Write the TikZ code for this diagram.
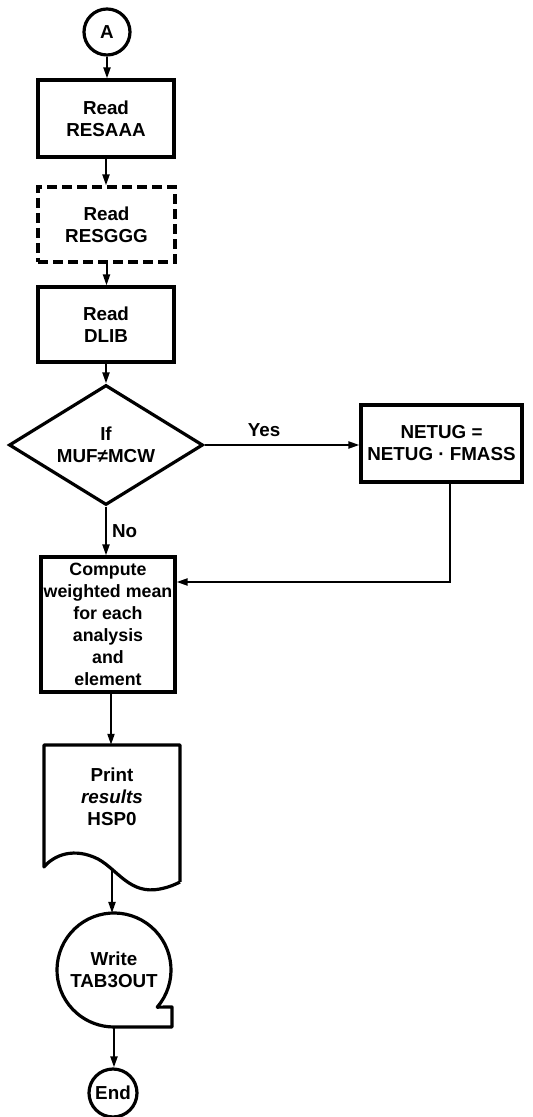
\documentclass[tikz,border=0pt]{standalone}
\usepackage{fontspec}
\setmainfont{Liberation Sans}
\usetikzlibrary{arrows.meta,shapes.geometric}
\begin{document}
\begin{tikzpicture}[x=1pt,y=1pt,
  every node/.style={font=\fontsize{18.8}{22}\selectfont\bfseries, align=center, inner sep=0pt},
  proc/.style={draw, line width=3.2pt, rectangle},
  term/.style={draw, line width=3.2pt, circle},
  conn/.style={line width=2pt, -{Triangle[length=11pt,width=7pt]}},
  thick3/.style={line width=3.2pt, line join=round}
]
\useasboundingbox (0,0) rectangle (533,1117);
% nodes
\node[term, minimum size=46pt] (A) at (107,1085) {A};
\node[proc, minimum width=136pt, minimum height=77pt] (r1) at (106,998.5) {Read\\RESAAA};
\node[proc, dash pattern=on 10pt off 5pt, minimum width=137pt, minimum height=75pt] (r2) at (106.5,892.5) {Read\\RESGGG};
\node[proc, minimum width=136pt, minimum height=75pt] (r3) at (106,792.5) {Read\\DLIB};
\node[draw, line width=3.2pt, diamond, aspect=1.617, minimum width=194pt, minimum height=120pt, inner sep=0pt] (dec) at (106,672) {If\\MUF≠MCW};
\node[proc, minimum width=161pt, minimum height=77pt] (net) at (441.5,673.5) {NETUG =\\NETUG · FMASS};
\node[proc, minimum width=134pt, minimum height=135pt, font=\fontsize{17.8}{22}\selectfont\bfseries] (comp) at (108,492.5) {Compute\\weighted mean\\for each\\analysis\\and\\element};
% document shape
\node[minimum width=136pt, minimum height=122pt] (doc) at (112,311) {};
\node (doct) at (112,320) {Print\\{\itshape results}\\HSP0};
\draw[thick3] (180,235) -- (180,372) -- (44,372) -- (44,250)
  .. controls (54,262) and (74,270) .. (98,258)
  .. controls (118,247) and (130,222) .. (160,228)
  .. controls (170,230) and (176,233) .. (180,235);
% write (tape) shape
\node[minimum size=114pt, circle] (wr) at (114,147) {Write\\TAB3OUT};
\draw[thick3] (114,147) ++(-40.7:57) arc[start angle=-40.7, end angle=270, radius=57] -- (172,90) -- (172,110) -- cycle;
\node[term, minimum size=48pt] (end) at (113,24) {End};
% connectors
\draw[conn] (A) -- (A |- r1.north);
\draw[conn] (r1.south) -- (r2.north -| r1.south);
\draw[conn] (r2.south) -- (r3.north -| r2.south);
\draw[conn] (r3.south) -- (dec.north -| r3.south);
\draw[conn] (dec.east) -- node[above=7pt, xshift=-18pt] (yes) {Yes} (dec.east -| net.west);
\draw[conn] (dec.south) -- node[right=5pt] (no) {No} (dec.south |- comp.north);
\coordinate (bend) at (450,535);
\draw[conn] (net.south -| bend) -- (bend) -- (bend -| comp.east);
\draw[conn] (comp.south -| 111,0) -- (doc.north -| 111,0);
\draw[conn] (112,247) -- (112,204);
\draw[conn] (114,90) -- (end.north -| 114,0);
\end{tikzpicture}
\end{document}
